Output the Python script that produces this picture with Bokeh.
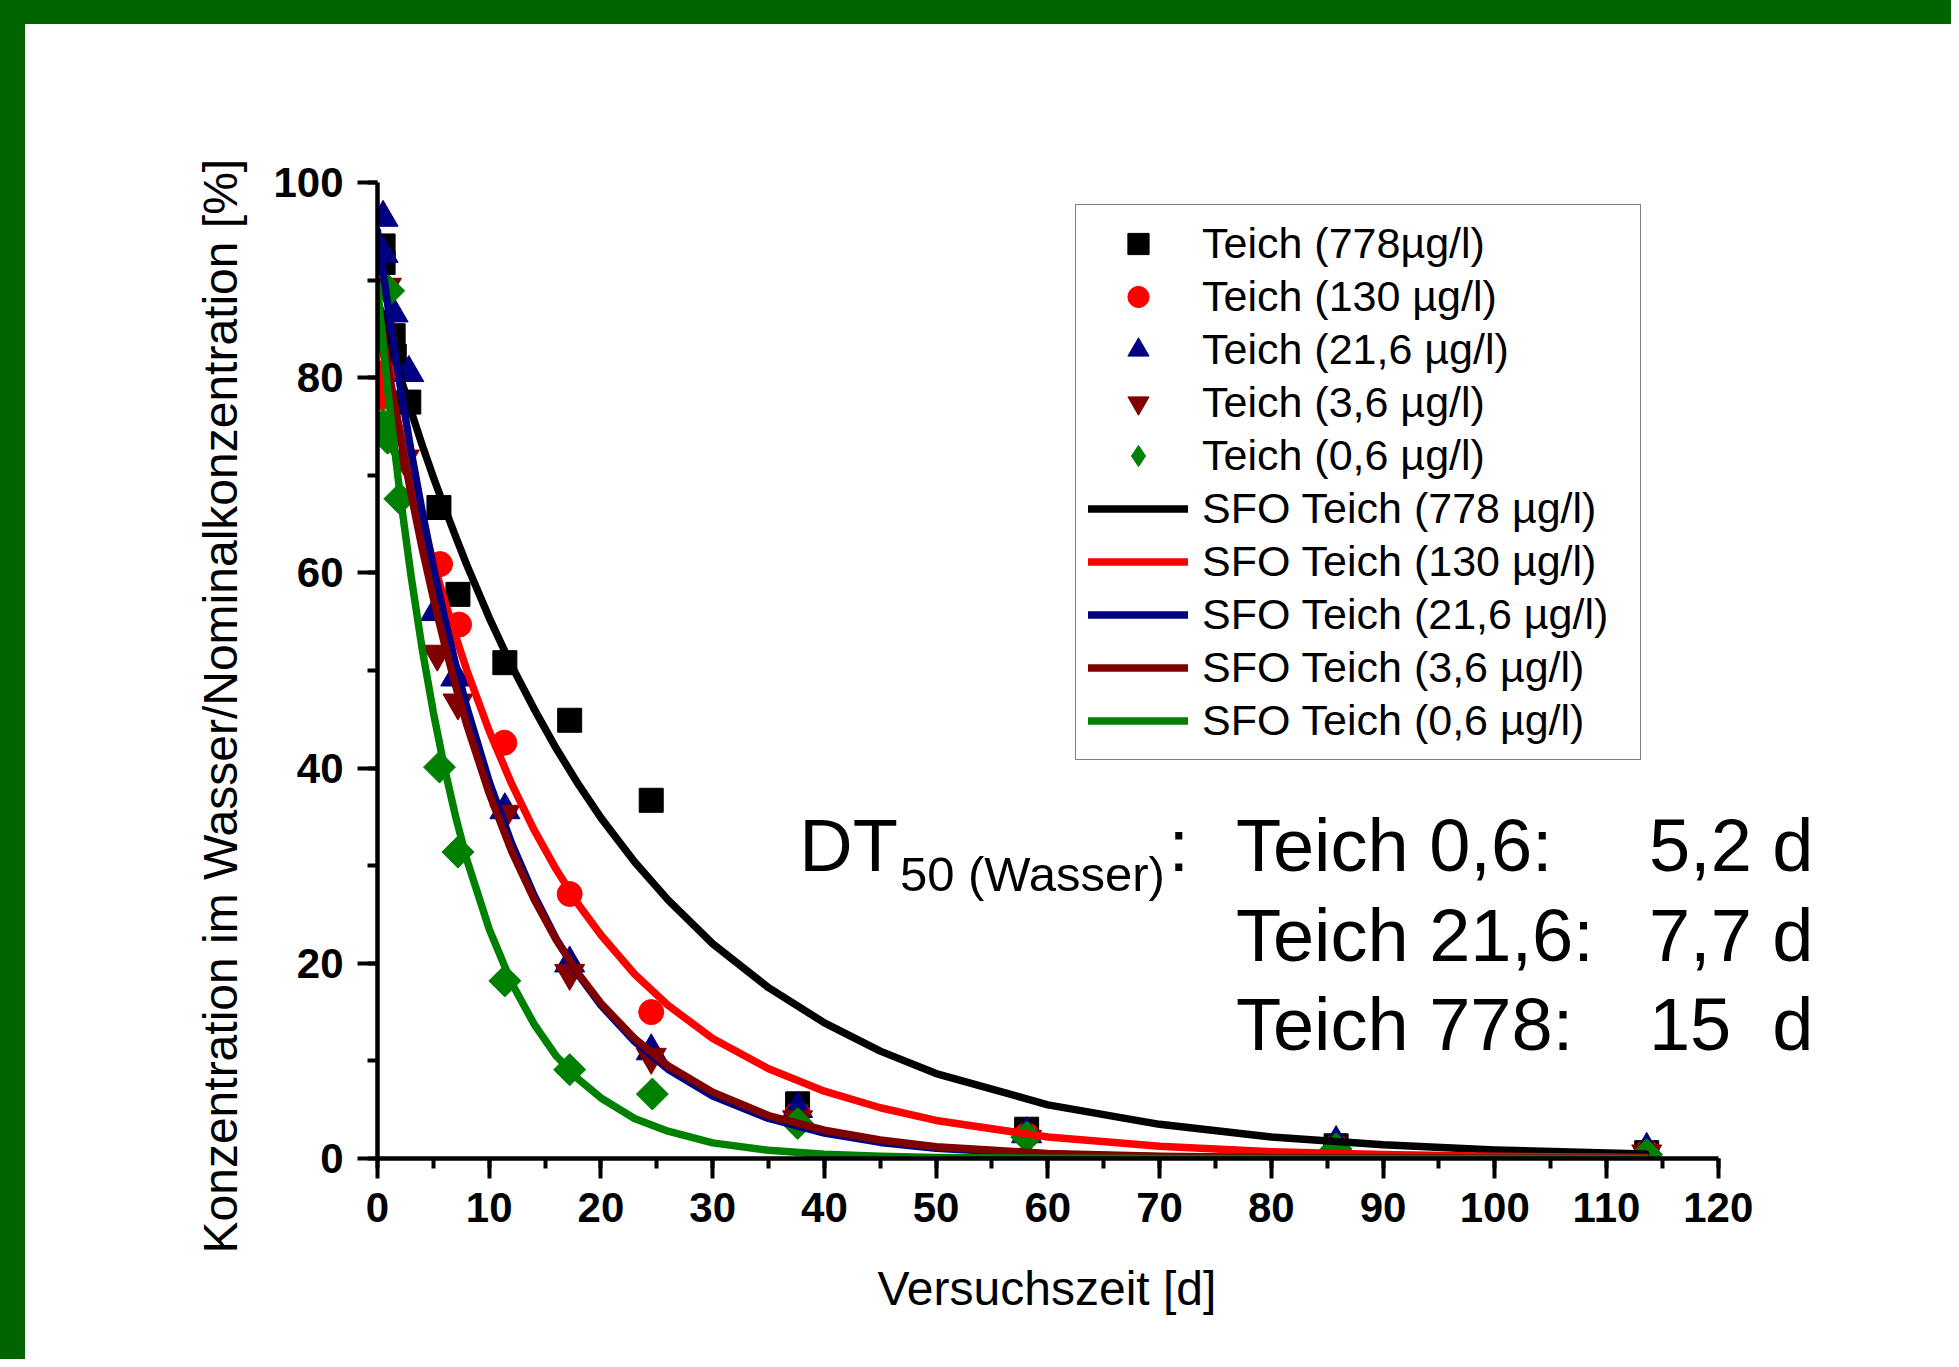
import numpy as np
from bokeh.plotting import figure
from bokeh.models import (Range1d, SingleIntervalTicker, Legend, LegendItem, Label, Spacer, Title)
from bokeh.layouts import column, row
from bokeh.embed import file_html
from bokeh.resources import INLINE

# ---------------- data ----------------
t_778 = [0.5, 0.5, 1.4, 1.5, 2.8, 5.5, 7.2, 11.4, 17.2, 24.5, 37.6, 58.1, 85.8, 113.6]
c_778 = [93.5, 91.8, 84.3, 82.2, 77.5, 66.7, 57.8, 50.8, 44.9, 36.7, 5.6, 3.0, 1.3, 0.6]

t_130 = [0.3, 0.6, 5.6, 7.3, 11.35, 17.2, 24.5, 37.6, 58.1, 85.8, 113.6]
c_130 = [78.0, 80.5, 60.9, 54.7, 42.6, 27.1, 15.0, 4.6, 2.4, 1.2, 0.6]

t_21_6 = [0.5, 0.5, 1.4, 2.8, 5.2, 7.0, 11.4, 17.2, 24.5, 37.6, 58.1, 85.8, 113.6]
c_21_6 = [96.4, 92.7, 86.6, 80.5, 56.0, 49.3, 35.7, 20.0, 11.0, 5.1, 2.5, 1.6, 0.9]

t_3_6 = [0.8, 2.4, 5.35, 7.2, 11.4, 17.2, 24.5, 37.6, 58.1, 85.8, 113.6]
c_3_6 = [89.3, 71.7, 51.7, 46.7, 35.3, 19.0, 10.4, 4.0, 2.0, 1.0, 0.5]

t_0_6 = [1.0, 0.5, 0.9, 2.0, 5.55, 7.2, 11.4, 17.2, 24.6, 37.6, 58.1, 85.8, 113.6]
c_0_6 = [88.9, 75.2, 73.8, 67.6, 40.1, 31.4, 18.2, 9.1, 6.6, 3.6, 2.2, 1.0, 0.4]

# SFO fit curves
fit_t = [0, 1, 2, 3, 4, 5, 6, 7, 8, 10, 12, 14, 16, 18, 20, 23, 26, 30, 35, 40,
         45, 50, 60, 70, 80, 90, 100, 113.5]
fit_778 = [88.0, 84.0, 80.2, 76.6, 73.1, 69.8, 66.7, 63.7, 60.8, 55.4, 50.5, 46.1, 42.0, 38.3,
           34.9, 30.4, 26.5, 22.0, 17.5, 13.9, 11.0, 8.7, 5.5, 3.5, 2.2, 1.4, 0.87, 0.46]
fit_130 = [85.3, 79.8, 74.7, 69.8, 65.3, 61.1, 57.2, 53.5, 50.0, 43.8, 38.4, 33.7, 29.6, 26.0,
           22.9, 18.9, 15.7, 12.3, 9.2, 6.9, 5.2, 3.9, 2.2, 1.25, 0.7, 0.4, 0.22, 0.1]
fit_21_6 = [95.0, 86.8, 79.4, 72.5, 66.3, 60.6, 55.4, 50.6, 46.2, 38.6, 32.3, 27.0, 22.5, 18.8,
            15.7, 12.0, 9.15, 6.4, 4.1, 2.6, 1.65, 1.05, 0.43, 0.17, 0.07, 0.03, 0.01, 0.0]
fit_3_6 = [88.0, 80.8, 74.2, 68.1, 62.5, 57.4, 52.7, 48.4, 44.4, 37.4, 31.5, 26.6, 22.4, 18.9,
           15.9, 12.3, 9.5, 6.8, 4.4, 2.9, 1.9, 1.2, 0.52, 0.22, 0.09, 0.04, 0.02, 0.0]
fit_0_6 = [89.0, 77.9, 68.2, 59.7, 52.2, 45.7, 40.0, 35.0, 30.6, 23.5, 18.0, 13.8, 10.5, 8.1,
           6.2, 4.1, 2.8, 1.6, 0.84, 0.43, 0.22, 0.11, 0.03, 0.0, 0.0, 0.0, 0.0, 0.0]

point_labels = ["Teich (778µg/l)", "Teich (130 µg/l)", "Teich (21,6 µg/l)",
                "Teich (3,6 µg/l)", "Teich (0,6 µg/l)"]
fit_labels = ["SFO Teich (778 µg/l)", "SFO Teich (130 µg/l)", "SFO Teich (21,6 µg/l)",
              "SFO Teich (3,6 µg/l)", "SFO Teich (0,6 µg/l)"]
dt_names = ["Teich 0,6:", "Teich 21,6:", "Teich 778:"]
dt_values = ["5,2 d", "7,7 d", "15\u00a0\u00a0d"]
x_title = "Versuchszeit [d]"
y_title = "Konzentration im Wasser/Nominalkonzentration [%]"

colors = ["#000000", "#FF0000", "#000080", "#800000", "#008000"]
FONT = "Liberation Sans"
BAND = "#006400"

# ---------------- figure ----------------
X_END = 131.93   # frame continues right of the axis end so the annotation is not clipped
p = figure(width=1926, height=1335, x_range=Range1d(0, X_END), y_range=Range1d(0, 100),
           output_backend="svg", toolbar_location=None, tools="",
           min_border_left=352, min_border_right=100, min_border_top=158, min_border_bottom=201)
p.outline_line_color = None
p.grid.visible = False
p.background_fill_color = "white"
p.border_fill_color = "white"

p.xaxis.ticker = SingleIntervalTicker(interval=10, num_minor_ticks=2)
p.yaxis.ticker = SingleIntervalTicker(interval=20, num_minor_ticks=2)
p.xaxis.bounds = (0, 120)
for ax in (p.xaxis[0], p.yaxis[0]):
    ax.axis_line_width = 4.5
    ax.axis_line_color = "black"
    ax.major_tick_line_width = 4
    ax.minor_tick_line_width = 4
    ax.major_tick_line_color = "black"
    ax.minor_tick_line_color = "black"
    ax.major_tick_out = 20
    ax.major_tick_in = 0
    ax.minor_tick_out = 10
    ax.minor_tick_in = 0
    ax.major_label_text_font = FONT
    ax.major_label_text_font_style = "bold"
    ax.major_label_text_font_size = "42px"
    ax.major_label_text_color = "black"
p.xaxis.major_label_standoff = 14
p.yaxis.major_label_standoff = 14

# axis titles as side titles (so they can be placed off-centre like the original)
ytitle = Title(text=y_title, align="left", offset=-95, standoff=47, text_font=FONT,
               text_font_size="48px", text_font_style="normal", text_color="black")
p.add_layout(ytitle, "left")
xtitle = Title(text=x_title, align="left", offset=500, standoff=70, text_font=FONT,
               text_font_size="48px", text_font_style="normal", text_color="black")
p.add_layout(xtitle, "below")

# points
r_pts = []
r_pts.append(p.scatter(t_778, c_778, marker="square", size=24, color=colors[0]))
r_pts.append(p.scatter(t_130, c_130, marker="circle", size=25, color=colors[1]))
r_pts.append(p.scatter(t_21_6, c_21_6, marker="triangle", size=30, color=colors[2]))
r_pts.append(p.scatter(t_3_6, c_3_6, marker="inverted_triangle", size=30, color=colors[3]))
r_pts.append(p.scatter(t_0_6, c_0_6, marker="square", angle=np.pi / 4, size=22.6, color=colors[4]))
# legend swatch for the diamonds (legend swatches are drawn without rotation)
r_dia_key = p.scatter([np.nan], [np.nan], marker="diamond", size=30, color=colors[4])

# fits
r_fit = []
for ys, c in zip([fit_778, fit_130, fit_21_6, fit_3_6, fit_0_6], colors):
    r_fit.append(p.line(fit_t, ys, line_width=7.5, color=c, line_cap="round", line_join="round"))

key_renderers = r_pts[:4] + [r_dia_key]
items = [LegendItem(label=l, renderers=[r]) for l, r in zip(point_labels, key_renderers)]
items += [LegendItem(label=l, renderers=[r]) for l, r in zip(fit_labels, r_fit)]
legend = Legend(items=items, location=(698, 398), padding=12, spacing=0, margin=0,
                glyph_width=100, glyph_height=53, label_standoff=14, label_width=426,
                label_text_font=FONT, label_text_font_size="43px", label_text_color="black",
                border_line_color="black", border_line_width=1.5,
                background_fill_color="white", background_fill_alpha=1.0)
p.add_layout(legend)

# DT50 annotation
big = "74px"
p.add_layout(Label(x=37.75, y=32.03, text="DT", text_font=FONT, text_font_size=big,
                   text_baseline="alphabetic", text_color="black"))
p.add_layout(Label(x=46.76, y=29.11, text="50 (Wasser)", text_font=FONT, text_font_size="49px",
                   text_baseline="alphabetic", text_color="black"))
p.add_layout(Label(x=70.8, y=32.03, text=":", text_font=FONT, text_font_size=big,
                   text_baseline="alphabetic", text_color="black"))
row_y = [32.10, 22.88, 13.72]
for name, val, yy in zip(dt_names, dt_values, row_y):
    p.add_layout(Label(x=76.83, y=yy, text=name, text_font=FONT, text_font_size=big,
                       text_baseline="alphabetic", text_color="black"))
    p.add_layout(Label(x=113.8, y=yy, text=val, text_font=FONT, text_font_size=big,
                       text_baseline="alphabetic", text_color="black"))

top_band = Spacer(width=1951, height=24, styles={"background-color": BAND})
left_band = Spacer(width=25, height=1335, styles={"background-color": BAND})
layout = column(top_band, row(left_band, p))

open("out.html", "w").write(file_html(layout, INLINE))
